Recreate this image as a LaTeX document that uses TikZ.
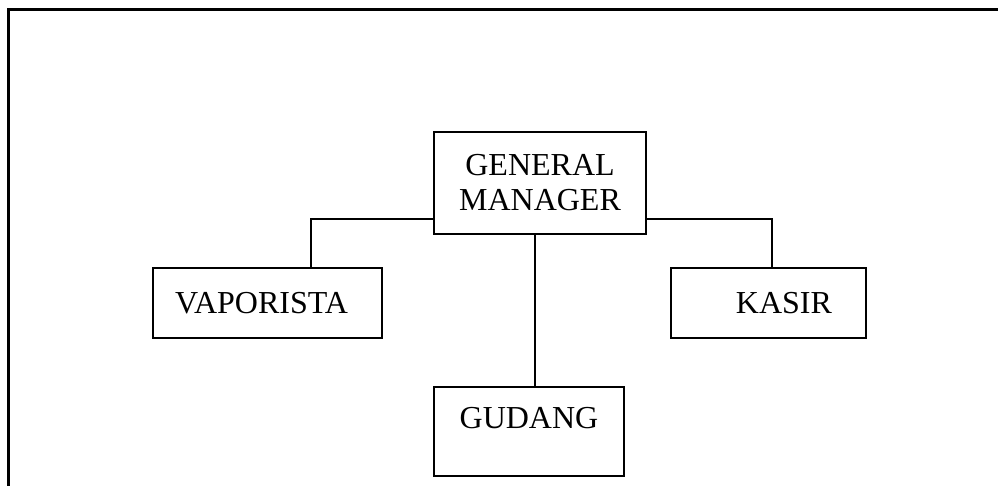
\documentclass[tikz,border=0pt]{standalone}
\usepackage{fontspec}
\setmainfont{Liberation Serif}
\begin{document}
\begin{tikzpicture}[x=1pt,y=-1pt,
  box/.style={draw,line width=1.6pt,rectangle,inner sep=0pt,font=\fontsize{32}{35}\selectfont},
  conn/.style={line width=1.6pt},
  frame/.style={line width=2.2pt,line cap=rect}]
\useasboundingbox (0,0) rectangle (998,485);
\draw[frame] (8.5,486) -- (8.5,9.5) -- (999,9.5);
\node[box,minimum width=212pt,minimum height=102pt,align=center] (gm) at (540,183) {GENERAL\\MANAGER};
\node[box,minimum height=70pt,text width=185pt,inner xsep=22pt,align=left] (vap) at (267.5,303) {VAPORISTA};
\node[box,minimum height=70pt,text width=127pt,inner xsep=34pt,align=right] (kas) at (768.5,303) {KASIR};
\node[box,minimum width=190pt,inner ysep=0pt,text height=41pt,text depth=48pt,align=center,anchor=base] (gud) at (529,428) {GUDANG};
\draw[conn] ([yshift=16pt]gm.south west) -| ([xshift=43.5pt]vap.north);
\draw[conn] ([yshift=16pt]gm.south east) -| ([xshift=3.5pt]kas.north);
\draw[conn] ([xshift=-5pt]gm.south) -- ([xshift=-5pt]gm.south |- gud.north);
\end{tikzpicture}
\end{document}
